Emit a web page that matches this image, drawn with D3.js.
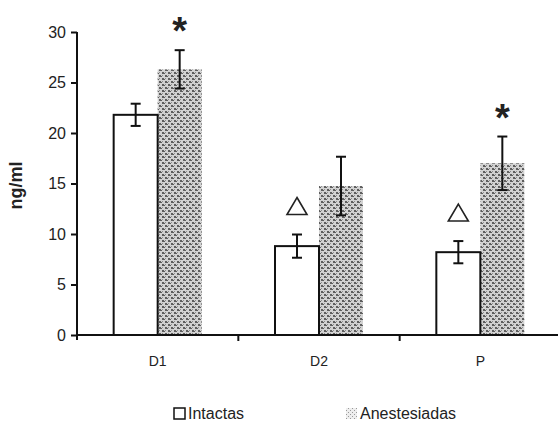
<!DOCTYPE html>
<html><head><meta charset="utf-8">
<script src="https://cdn.jsdelivr.net/npm/d3@7"></script>
<style>
html,body{margin:0;padding:0;background:#fff;}
svg{display:block;font-family:"Liberation Sans",Arial,sans-serif;}
</style></head>
<body>
<script>
const categories = ["D1", "D2", "P"];
const seriesNames = ["Intactas", "Anestesiadas"];
const intactas = [21.8, 8.8, 8.2];
const intactasErr = [1.1, 1.15, 1.1];
const anestesiadas = [26.3, 14.75, 17.0];
const anestesiadasErr = [1.9, 2.9, 2.65];
const markers = [
  {cat: "D1", series: "Anestesiadas", symbol: "*"},
  {cat: "D2", series: "Intactas", symbol: "tri"},
  {cat: "P", series: "Intactas", symbol: "tri"},
  {cat: "P", series: "Anestesiadas", symbol: "*"}
];
const yTicks = [0, 5, 10, 15, 20, 25, 30];

const W = 558, H = 423;
const svg = d3.select("body").append("svg").attr("width", W).attr("height", H);

const defs = svg.append("defs");
const pat = defs.append("pattern").attr("id", "hatch").attr("patternUnits", "userSpaceOnUse")
  .attr("width", 6).attr("height", 6);
pat.append("rect").attr("width", 6).attr("height", 6).attr("fill", "#d2d2d2");
pat.append("path").attr("d", "M0,0h2v1h1v1h-3z M3,3h2v1h1v1h-3z")
  .attr("fill", "#5e5e5e");
pat.append("path").attr("d", "M3,0h1v1h-1z M0,3h1v1h-1z")
  .attr("fill", "#8e8e8e");
const patL = defs.append("pattern").attr("id", "hatchL").attr("patternUnits", "userSpaceOnUse")
  .attr("width", 4).attr("height", 4);
patL.append("rect").attr("width", 4).attr("height", 4).attr("fill", "#eee");
patL.append("path").attr("d", "M0,0h1v1h-1z M2,2h1v1h-1z").attr("fill", "#999");

const x0 = 77, x1 = 561, y0 = 335, yTop = 32;
const x = d3.scaleBand().domain(categories).range([x0, x1]).padding(0);
const y = d3.scaleLinear().domain([0, 30]).range([y0, yTop]);
const groupW = 88;
const xs = d3.scaleBand().domain(seriesNames).range([0, groupW]).padding(0);

const data = [];
categories.forEach((c, i) => {
  data.push({cat: c, series: "Intactas", v: intactas[i], e: intactasErr[i]});
  data.push({cat: c, series: "Anestesiadas", v: anestesiadas[i], e: anestesiadasErr[i]});
});
const bx = d => x(d.cat) + x.bandwidth() / 2 - groupW / 2 + xs(d.series);

const g = svg.append("g");
g.selectAll("rect.an").data(data.filter(d => d.series === "Anestesiadas")).join("rect")
  .attr("x", bx).attr("y", d => y(d.v)).attr("width", xs.bandwidth()).attr("height", d => y(0) - y(d.v))
  .attr("fill", "url(#hatch)");
g.selectAll("rect.in").data(data.filter(d => d.series === "Intactas")).join("rect")
  .attr("x", bx).attr("y", d => y(d.v)).attr("width", xs.bandwidth()).attr("height", d => y(0) - y(d.v))
  .attr("fill", "#fff").attr("stroke", "#111").attr("stroke-width", 2);

const eb = g.selectAll("g.eb").data(data).join("g")
  .attr("transform", d => `translate(${bx(d) + xs.bandwidth() / 2},0)`);
eb.append("line").attr("y1", d => y(d.v + d.e)).attr("y2", d => y(d.v - d.e))
  .attr("stroke", "#111").attr("stroke-width", 2);
eb.append("line").attr("x1", -5).attr("x2", 5).attr("y1", d => y(d.v + d.e)).attr("y2", d => y(d.v + d.e))
  .attr("stroke", "#111").attr("stroke-width", 2);
eb.append("line").attr("x1", -5).attr("x2", 5).attr("y1", d => y(d.v - d.e)).attr("y2", d => y(d.v - d.e))
  .attr("stroke", "#111").attr("stroke-width", 2);

markers.forEach(m => {
  const d = data.find(q => q.cat === m.cat && q.series === m.series);
  const cx = bx(d) + xs.bandwidth() / 2;
  const top = y(d.v + d.e);
  if (m.symbol === "*") {
    svg.append("text").attr("x", cx).attr("y", top - 6).attr("text-anchor", "middle")
      .attr("font-size", 38).attr("font-weight", "bold").attr("fill", "#222")
      .attr("font-family", "Liberation Sans, Arial, sans-serif").text("*");
  } else {
    const cy = top - 28;
    svg.append("path").attr("d", `M${cx},${cy - 9} L${cx + 10},${cy + 8} L${cx - 10},${cy + 8} Z`)
      .attr("fill", "none").attr("stroke", "#222").attr("stroke-width", 1.6);
  }
});

const yAxis = svg.append("g").attr("transform", `translate(${x0},0)`)
  .call(d3.axisLeft(y).tickValues(yTicks).tickSize(6).tickPadding(5));
yAxis.select(".domain").attr("d", `M0,${yTop}V${y0 + 5}`).attr("stroke", "#111").attr("stroke-width", 2);
yAxis.selectAll(".tick line").attr("stroke", "#111").attr("stroke-width", 2);
yAxis.selectAll(".tick text").attr("font-size", 16).attr("fill", "#222")
  .attr("font-family", "Liberation Sans, Arial, sans-serif");

const xAxis = svg.append("g").attr("transform", `translate(0,${y0})`)
  .call(d3.axisBottom(x).tickSize(0).tickPadding(21));
xAxis.select(".domain").attr("d", `M${x0},0H${W}`).attr("stroke", "#111").attr("stroke-width", 2);
xAxis.selectAll(".tick text").attr("font-size", 14).attr("fill", "#222")
  .attr("font-family", "Liberation Sans, Arial, sans-serif");
xAxis.selectAll("line.bt").data(categories.slice(1)).join("line")
  .attr("x1", d => x(d)).attr("x2", d => x(d)).attr("y1", 0).attr("y2", 6)
  .attr("stroke", "#111").attr("stroke-width", 2);

svg.append("text").attr("transform", `translate(22,${(y0 + yTop) / 2 + 2}) rotate(-90)`)
  .attr("text-anchor", "middle").attr("font-size", 18).attr("font-weight", "bold").attr("fill", "#222")
  .text("ng/ml");

const leg = svg.append("g");
const legX = [174, 346];
seriesNames.forEach((s, i) => {
  leg.append("rect").attr("x", legX[i]).attr("y", 408).attr("width", 11).attr("height", 11)
    .attr("fill", i === 0 ? "#fff" : "url(#hatchL)").attr("stroke", i === 0 ? "#111" : "none").attr("stroke-width", 1.5);
  leg.append("text").attr("x", legX[i] + 14).attr("y", 419).attr("font-size", 16).attr("fill", "#222").text(s);
});
</script>
</body></html>
